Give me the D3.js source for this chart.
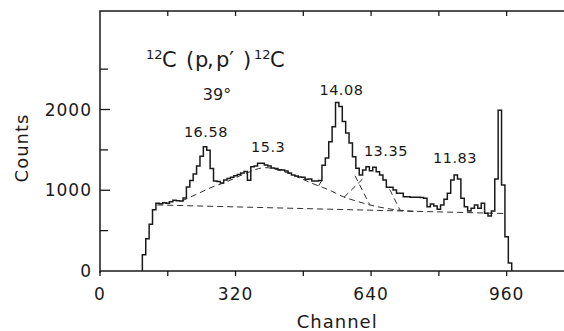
<!DOCTYPE html>
<html>
<head>
<meta charset="utf-8">
<script src="https://cdn.jsdelivr.net/npm/d3@7"></script>
<style>
  html, body { margin: 0; padding: 0; background: #fff; overflow: hidden; }
  text { font-family: "DejaVu Sans", sans-serif; fill: #1a1a1a; }
</style>
</head>
<body>
<script>
// spectrum: 8-channel bins starting at channel 100
const binStart = 100;
const binWidth = 8;
const counts = [
  200, 400, 580, 760, 840, 832, 845, 838, 858, 876, 870, 866, 905, 1040, 1120, 1200,
  1300, 1420, 1540, 1495, 1270, 1115, 1108, 1090, 1128, 1145, 1160, 1180, 1195, 1215, 1232, 1125,
  1290, 1300, 1334, 1334, 1312, 1300, 1275, 1268, 1255, 1250, 1240, 1215, 1190, 1175, 1165, 1160,
  1136, 1140, 1115, 1115, 1120, 1310, 1400, 1600, 1788, 2086, 2036, 1850, 1709, 1586, 1416, 1272,
  1190, 1252, 1292, 1243, 1285, 1230, 1190, 1128, 1037, 1037, 1004, 963, 963, 921, 921, 913,
  913, 913, 910, 901, 797, 830, 805, 764, 818, 888, 963, 1128, 1190, 1140, 901, 797,
  743, 777, 818, 777, 839, 715, 681, 743, 1140, 1990, 1066, 425, 99
];

// fitted components (dashed), [channel, counts]
const background = [[135, 818], [955, 712]];
const broad153 = [[193, 867], [230, 955], [270, 1050], [291, 1088], [340, 1200], [390, 1280],
  [440, 1220], [500, 1087], [540, 1005], [574, 921], [610, 858], [637, 818], [685, 768], [740, 739]];
const peak1408L = [[516, 1055], [528, 1160]];
const peak1408R = [[602, 1180], [637, 820]];
const peak1335L = [[576, 912], [622, 1150]];
const peak1335R = [[684, 1010], [708, 758]];

// peak labels
const peakNames = ["16.58", "15.3", "14.08", "13.35", "11.83"];
const peakChannels = [250, 397, 570, 675, 838];
const peakLabelCounts = [1660, 1475, 2181, 1425, 1338];

const xTicks = [0, 160, 320, 480, 640, 800, 960, 1120];
const xLabels = [0, 320, 640, 960];
const yTicks = [500, 1000, 1500, 2000, 2500];
const yLabels = [0, 1000, 2000];

const W = 564, H = 331;
const svg = d3.select("body").append("svg")
  .attr("width", W).attr("height", H);

const x = d3.scaleLinear().domain([0, 1120]).range([100, 574.4]);
const y = d3.scaleLinear().domain([0, 3220]).range([271, 11]);

const ink = "#1a1a1a";

// frame: left axis, bottom axis, top line
svg.append("path")
  .attr("d", `M${x(1160)},${y(3220)}H${x(0)}V${y(0) + 2}M${x(0)},${y(0)}H${x(1160)}`)
  .attr("fill", "none").attr("stroke", ink).attr("stroke-width", 1.5);

// bottom ticks (outward), top ticks (inward)
svg.selectAll(".xtb").data(xTicks).enter().append("line")
  .attr("x1", d => x(d)).attr("x2", d => x(d))
  .attr("y1", y(0)).attr("y2", y(0) + 5)
  .attr("stroke", ink).attr("stroke-width", 1.3);
svg.selectAll(".xtt").data(xTicks.slice(1)).enter().append("line")
  .attr("x1", d => x(d)).attr("x2", d => x(d))
  .attr("y1", y(3220)).attr("y2", y(3220) + 5)
  .attr("stroke", ink).attr("stroke-width", 1.3);
// left ticks (inward)
svg.selectAll(".yt").data(yTicks).enter().append("line")
  .attr("x1", x(0)).attr("x2", d => x(0) + (d % 1000 === 0 ? 10 : 8))
  .attr("y1", d => y(d)).attr("y2", d => y(d))
  .attr("stroke", ink).attr("stroke-width", 1.3);

// tick labels
svg.selectAll(".xl").data(xLabels).enter().append("text")
  .attr("x", d => x(d)).attr("y", 300)
  .attr("text-anchor", "middle")
  .style("font-size", "17px").style("letter-spacing", "1px")
  .text(d => d);
svg.selectAll(".yl").data(yLabels).enter().append("text")
  .attr("x", 92).attr("y", d => y(d))
  .attr("dy", "0.36em")
  .attr("text-anchor", "end")
  .style("font-size", "17px").style("letter-spacing", "1px")
  .text(d => d);

// axis titles
svg.append("text")
  .attr("x", x(560)).attr("y", 328)
  .attr("text-anchor", "middle")
  .style("font-size", "18px").style("letter-spacing", "1px")
  .text("Channel");
svg.append("text")
  .attr("transform", `translate(28,148) rotate(-90)`)
  .attr("text-anchor", "middle")
  .style("font-size", "18px").style("letter-spacing", "1px")
  .text("Counts");

// histogram
const pts = [[binStart, 0]]
  .concat(counts.map((c, i) => [binStart + i * binWidth, c]))
  .concat([[binStart + counts.length * binWidth, 0]]);
const step = d3.line().x(d => x(d[0])).y(d => y(d[1])).curve(d3.curveStepAfter);
svg.append("path")
  .attr("d", step(pts))
  .attr("fill", "none").attr("stroke", ink).attr("stroke-width", 1.5);

// dashed fit curves
const smooth = d3.line().x(d => x(d[0])).y(d => y(d[1])).curve(d3.curveMonotoneX);
[background, broad153, peak1408L, peak1408R, peak1335L, peak1335R].forEach(seg => {
  svg.append("path")
    .attr("d", smooth(seg))
    .attr("fill", "none").attr("stroke", ink).attr("stroke-width", 0.9)
    .attr("stroke-dasharray", "6,4");
});

// peak labels
svg.selectAll(".pk").data(peakNames).enter().append("text")
  .attr("x", (d, i) => x(peakChannels[i]))
  .attr("y", (d, i) => y(peakLabelCounts[i]))
  .attr("text-anchor", "middle")
  .style("font-size", "14.5px").style("letter-spacing", "0.5px")
  .text(d => d);

// reaction title
const title = svg.append("text").attr("y", 67).style("font-size", "21px");
title.append("tspan").attr("x", 146).attr("dy", -8).style("font-size", "13px").text("12");
title.append("tspan").attr("x", 162).attr("dy", 8).text("C");
title.append("tspan").attr("x", 186).text("(");
title.append("tspan").attr("x", 195).text("p");
title.append("tspan").attr("x", 207).text(",");
title.append("tspan").attr("x", 216).text("p′");
title.append("tspan").attr("x", 243).text(")");
title.append("tspan").attr("x", 254).attr("dy", -8).style("font-size", "13px").text("12");
title.append("tspan").attr("x", 270).attr("dy", 8).text("C");

svg.append("text")
  .attr("x", 217).attr("y", 100)
  .attr("text-anchor", "middle")
  .style("font-size", "16px")
  .text("39°");
</script>
</body>
</html>
